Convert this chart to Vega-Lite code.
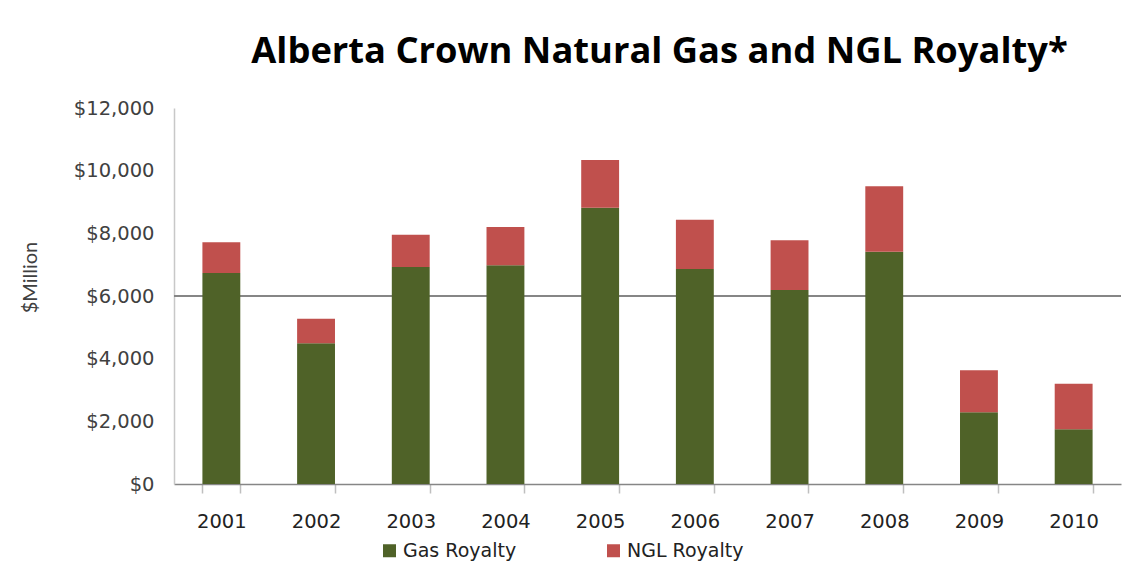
{
  "$schema": "https://vega.github.io/schema/vega-lite/v6.json",
  "autosize": {"type": "none"},
  "width": 947,
  "height": 376,
  "padding": {"left": 174, "top": 108, "right": 20, "bottom": 79},
  "background": "white",
  "title": {
    "text": "Alberta Crown Natural Gas and NGL Royalty*",
    "font": "Open Sans",
    "fontSize": 36.3,
    "fontWeight": "bold",
    "color": "#000000",
    "anchor": "middle",
    "frame": "group",
    "offset": 28,
    "dx": 12
  },
  "data": {
    "values": [
      {"year": "2001", "series": "Gas Royalty", "rank": 1, "value": 6734},
      {"year": "2001", "series": "NGL Royalty", "rank": 2, "value": 980},
      {"year": "2002", "series": "Gas Royalty", "rank": 1, "value": 4490},
      {"year": "2002", "series": "NGL Royalty", "rank": 2, "value": 786},
      {"year": "2003", "series": "Gas Royalty", "rank": 1, "value": 6926},
      {"year": "2003", "series": "NGL Royalty", "rank": 2, "value": 1031},
      {"year": "2004", "series": "Gas Royalty", "rank": 1, "value": 6980},
      {"year": "2004", "series": "NGL Royalty", "rank": 2, "value": 1222},
      {"year": "2005", "series": "Gas Royalty", "rank": 1, "value": 8818},
      {"year": "2005", "series": "NGL Royalty", "rank": 2, "value": 1522},
      {"year": "2006", "series": "Gas Royalty", "rank": 1, "value": 6862},
      {"year": "2006", "series": "NGL Royalty", "rank": 2, "value": 1573},
      {"year": "2007", "series": "Gas Royalty", "rank": 1, "value": 6191},
      {"year": "2007", "series": "NGL Royalty", "rank": 2, "value": 1587},
      {"year": "2008", "series": "Gas Royalty", "rank": 1, "value": 7414},
      {"year": "2008", "series": "NGL Royalty", "rank": 2, "value": 2087},
      {"year": "2009", "series": "Gas Royalty", "rank": 1, "value": 2288},
      {"year": "2009", "series": "NGL Royalty", "rank": 2, "value": 1341},
      {"year": "2010", "series": "Gas Royalty", "rank": 1, "value": 1746},
      {"year": "2010", "series": "NGL Royalty", "rank": 2, "value": 1455}
    ]
  },
  "config": {
    "view": {"stroke": null},
    "font": "DejaVu Sans"
  },
  "layer": [
    {
      "mark": {"type": "rule", "color": "#868686", "strokeWidth": 1.5},
      "encoding": {"y": {"datum": 6000, "type": "quantitative"}}
    },
    {
      "mark": {"type": "bar"},
      "encoding": {
        "x": {
          "field": "year",
          "type": "nominal",
          "title": null,
          "scale": {"paddingInner": 0.6, "paddingOuter": 0.3},
          "axis": {
            "labelAngle": 0,
            "labelFont": "DejaVu Sans",
            "labelFontSize": 19.5,
            "labelColor": "#222222",
            "labelPadding": 19,
            "domainColor": "#868686",
            "domainWidth": 1.5,
            "tickColor": "#BFBFBF",
            "tickWidth": 1.5,
            "tickSize": 9,
            "tickBand": "extent",
            "grid": false
          }
        },
        "y": {
          "field": "value",
          "type": "quantitative",
          "stack": "zero",
          "scale": {"domain": [0, 12000], "nice": false},
          "axis": {
            "title": "$Million",
            "titleFont": "Lato",
            "titleFontSize": 20,
            "titleFontWeight": "normal",
            "titleColor": "#404040",
            "titleX": -134,
            "titleY": 169,
            "titleAngle": -90,
            "values": [0, 2000, 4000, 6000, 8000, 10000, 12000],
            "format": "$,.0f",
            "labelFont": "DejaVu Sans",
            "labelFontSize": 19.5,
            "labelColor": "#404040",
            "labelPadding": 20,
            "ticks": false,
            "grid": false,
            "domainColor": "#C8C8C8",
            "domainWidth": 1.5
          }
        },
        "order": {"field": "rank", "type": "quantitative", "sort": "ascending"},
        "color": {
          "field": "series",
          "type": "nominal",
          "scale": {"domain": ["Gas Royalty", "NGL Royalty"], "range": ["#4F6228", "#C0504D"]},
          "legend": {
            "title": null,
            "orient": "none",
            "legendX": 206,
            "legendY": 433,
            "direction": "horizontal",
            "symbolType": "square",
            "symbolSize": 169,
            "symbolStrokeWidth": 0,
            "labelFont": "DejaVu Sans",
            "labelFontSize": 19,
            "labelColor": "#222222",
            "labelOffset": 4,
            "labelLimit": 300,
            "columnPadding": 87
          }
        }
      }
    }
  ]
}
